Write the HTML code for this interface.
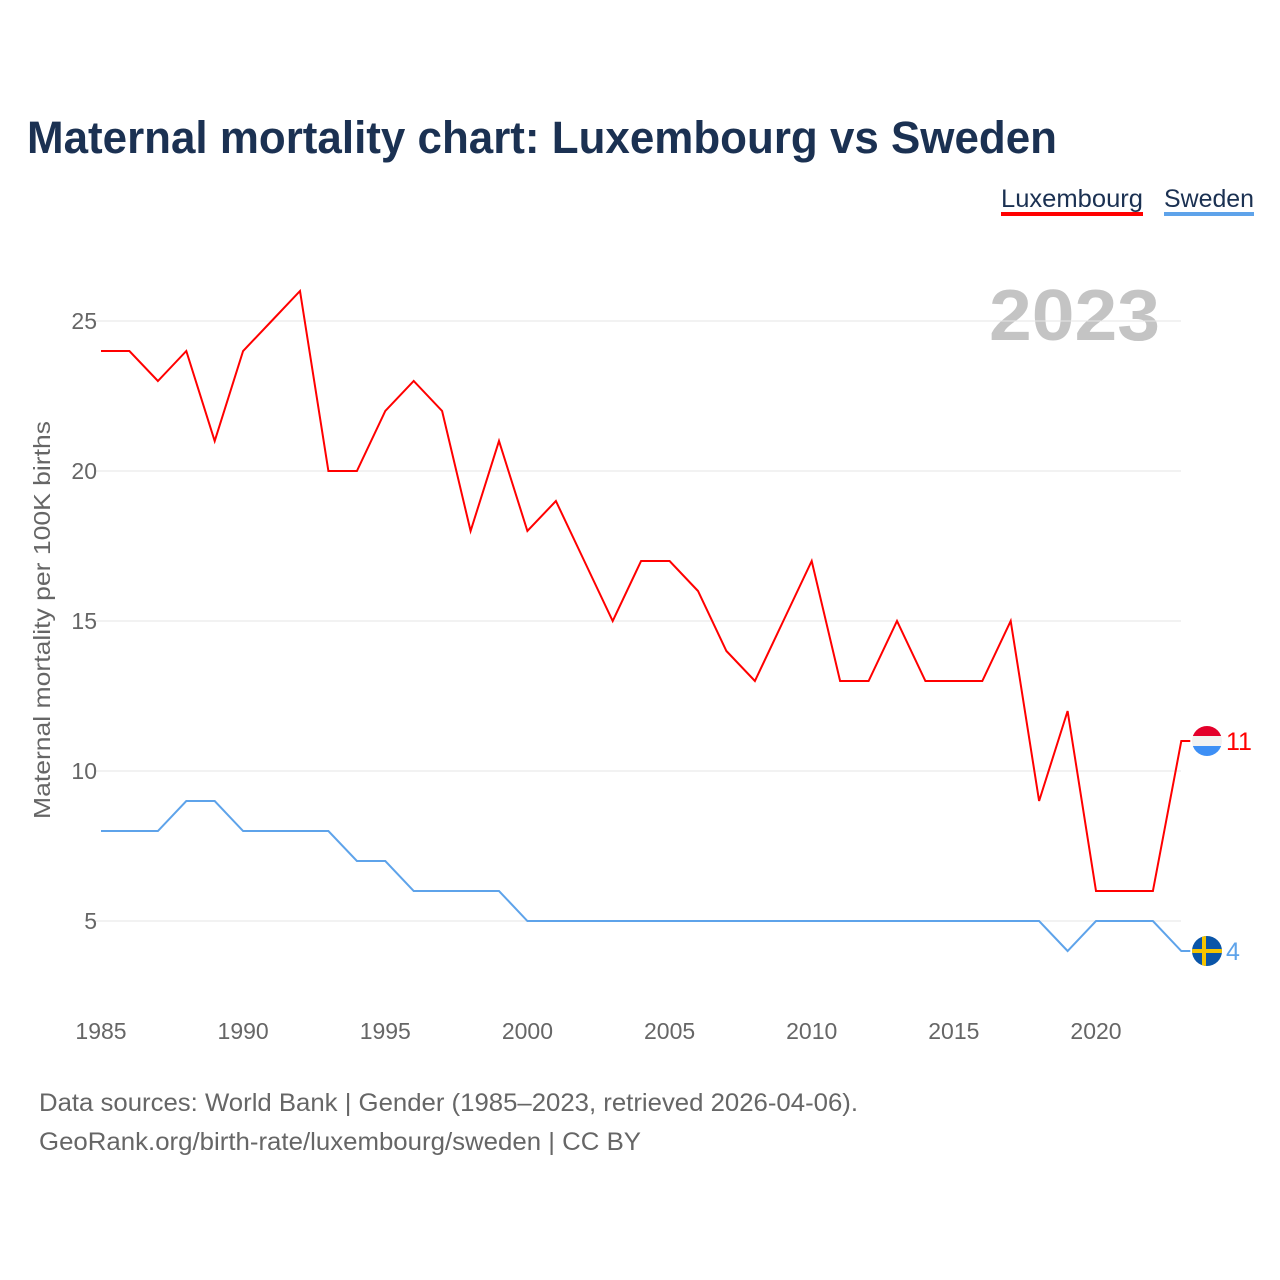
<!DOCTYPE html>
<html><head><meta charset="utf-8"><style>
body{margin:0;background:#fff;font-family:"Liberation Sans",sans-serif;}
</style></head><body>
<svg id="chart" width="1280" height="1280" xmlns="http://www.w3.org/2000/svg" style="display:block;font-family:'Liberation Sans',sans-serif">
<text x="27" y="153" font-size="45" font-weight="bold" fill="#1b3152" textLength="1030" lengthAdjust="spacingAndGlyphs">Maternal mortality chart: Luxembourg vs Sweden</text>
<g><text x="1001" y="207" font-size="25" fill="#1b3152" textLength="142" lengthAdjust="spacingAndGlyphs">Luxembourg</text><rect x="1001" y="212" width="142" height="4" fill="#ff0000"/></g>
<g><text x="1164" y="207" font-size="25" fill="#1b3152" textLength="90" lengthAdjust="spacingAndGlyphs">Sweden</text><rect x="1164" y="212" width="90" height="4" fill="#5ea3ea"/></g>
<text x="989" y="340" font-size="72" font-weight="bold" fill="#c4c4c4" textLength="171" lengthAdjust="spacingAndGlyphs">2023</text>
<text transform="translate(50,620) rotate(-90)" font-size="23" fill="#666" text-anchor="middle" textLength="398" lengthAdjust="spacingAndGlyphs">Maternal mortality per 100K births</text>
<g id="grid"></g><g id="series"></g>
<text x="39" y="1111" font-size="25" fill="#666" textLength="819" lengthAdjust="spacingAndGlyphs">Data sources: World Bank | Gender (1985–2023, retrieved 2026-04-06).</text>
<text x="39" y="1150" font-size="25" fill="#666" textLength="602" lengthAdjust="spacingAndGlyphs">GeoRank.org/birth-rate/luxembourg/sweden | CC BY</text>
</svg>
<script>
const years=[1985,1986,1987,1988,1989,1990,1991,1992,1993,1994,1995,1996,1997,1998,1999,2000,2001,2002,2003,2004,2005,2006,2007,2008,2009,2010,2011,2012,2013,2014,2015,2016,2017,2018,2019,2020,2021,2022,2023];
const luxembourg=[24,24,23,24,21,24,25,26,20,20,22,23,22,18,21,18,19,17,15,17,17,16,14,13,15,17,13,13,15,13,13,13,15,9,12,6,6,6,11];
const sweden=[8,8,8,9,9,8,8,8,8,7,7,6,6,6,6,5,5,5,5,5,5,5,5,5,5,5,5,5,5,5,5,5,5,5,4,5,5,5,4];
const yTicks=[5,10,15,20,25];
const xTicks=[1985,1990,1995,2000,2005,2010,2015,2020];
const NS="http://www.w3.org/2000/svg";
const x=v=>101+(v-1985)*(995/35);
const y=v=>1071-v*30;
function mk(t,a,p){const e=document.createElementNS(NS,t);for(const k in a)e.setAttribute(k,a[k]);p.appendChild(e);return e;}
const g=document.getElementById('grid'),s=document.getElementById('series');
yTicks.forEach(v=>{
 const l=mk('line',{x1:95,x2:1181,y1:y(v),y2:y(v),stroke:'#e6e6e6','stroke-width':1},g);
 
 
 const t=mk('text',{x:97,y:y(v)+8,'font-size':23,fill:'#666','text-anchor':'end'},g);t.textContent=v;
 
 
});
xTicks.forEach(v=>{
 const t=mk('text',{x:x(v),y:1039,'font-size':23,fill:'#666','text-anchor':'middle'},g);t.textContent=v;
 
 
});
function line(vals,col,name){
 const d=vals.map((v,i)=>(i?'L':'M')+x(years[i]).toFixed(1)+','+y(v)).join('')+'L'+(x(2023)+9)+','+y(vals[vals.length-1]);
 const p=mk('path',{d:d,fill:'none',stroke:col,'stroke-width':2},s);
 
 
}
line(luxembourg,'#ff0000','luxembourg-line');
line(sweden,'#5ea3ea','sweden-line');
const cx=1207,ly=y(luxembourg[38]),sy=y(sweden[38]);
const defs=mk('defs',{},s);
const c1=mk('clipPath',{id:'c1'},defs);mk('circle',{cx:cx,cy:ly,r:15},c1);
const c2=mk('clipPath',{id:'c2'},defs);mk('circle',{cx:cx,cy:sy,r:15},c2);
const f1=mk('g',{'clip-path':'url(#c1)'},s);


mk('rect',{x:cx-15,y:ly-15,width:30,height:10,fill:'#e4002b'},f1);
mk('rect',{x:cx-15,y:ly-5,width:30,height:10,fill:'#f2f2f2'},f1);
mk('rect',{x:cx-15,y:ly+5,width:30,height:10,fill:'#3d8ff5'},f1);
const f2=mk('g',{'clip-path':'url(#c2)'},s);


mk('rect',{x:cx-15,y:sy-15,width:30,height:30,fill:'#0a55a8'},f2);
mk('rect',{x:cx-15,y:sy-2,width:30,height:4,fill:'#f5c400'},f2);
mk('rect',{x:cx-5,y:sy-15,width:4,height:30,fill:'#f5c400'},f2);
const t1=mk('text',{x:1226,y:ly+9,'font-size':25,fill:'#ff0000'},s);t1.textContent=luxembourg[38];


const t2=mk('text',{x:1226,y:sy+9,'font-size':25,fill:'#5ea3ea'},s);t2.textContent=sweden[38];


</script>
</body></html>
